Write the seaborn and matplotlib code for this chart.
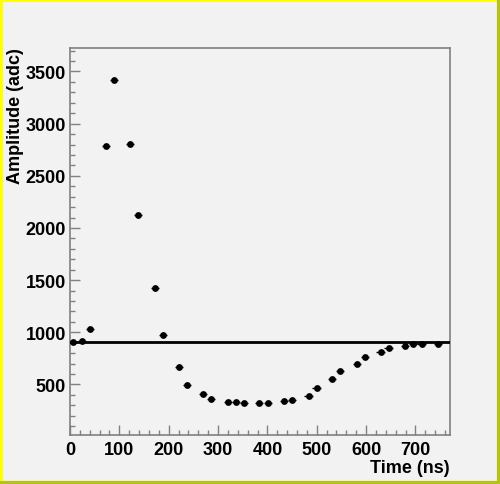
import matplotlib
matplotlib.use("Agg")
import matplotlib.pyplot as plt
import seaborn as sns
import pandas as pd
import numpy as np
from matplotlib.ticker import MultipleLocator
from matplotlib.lines import Line2D

time_ns = [6.7, 23.7, 40.5, 73.5, 89.7, 121.5, 138.4, 171.5, 188.4, 221.0, 237.3,
           269.4, 285.6, 319.4, 335.6, 351.8, 382.8, 400.4, 433.6, 450.4, 483.4,
           499.6, 531.4, 547.6, 581.3, 597.5, 629.2, 645.4, 678.5, 695.4, 712.3, 745.4]
amplitude = [910, 915, 1027, 2787, 3417, 2803, 2125, 1428, 973, 666, 497,
             404, 359, 334, 330, 324, 324, 324, 343, 349, 392,
             468, 548, 628, 699, 766, 814, 848, 865, 887, 887, 887]
time_err = 8.3
baseline = 910

df = pd.DataFrame({"Time (ns)": time_ns, "Amplitude (adc)": amplitude})

sns.set_theme(style="ticks")
plt.rcParams["font.family"] = ["Liberation Sans", "DejaVu Sans"]
plt.rcParams["text.color"] = "black"
plt.rcParams["axes.labelcolor"] = "black"
plt.rcParams["xtick.labelcolor"] = "black"
plt.rcParams["ytick.labelcolor"] = "black"

bg = "#f2f2f2"
fig = plt.figure(figsize=(5.0, 4.85), dpi=100, facecolor=bg)
ax = fig.add_axes([0.14, 0.101, 0.76, 0.799])
ax.set_facecolor(bg)

ax.errorbar(time_ns, amplitude, xerr=time_err, fmt="none", ecolor="black",
            elinewidth=1.0, capsize=0, zorder=2)
sns.scatterplot(data=df, x="Time (ns)", y="Amplitude (adc)", ax=ax, color="black",
                s=24, edgecolor="black", linewidth=0, zorder=3)
ax.axhline(baseline, color="black", linewidth=2.0, zorder=4)

ax.set_xlim(0, 770)
ax.set_ylim(15, 3730)
ax.xaxis.set_major_locator(MultipleLocator(100))
ax.xaxis.set_minor_locator(MultipleLocator(20))
ax.yaxis.set_minor_locator(MultipleLocator(100))
ax.set_yticks([500, 1000, 1500, 2000, 2500, 3000, 3500])

gray = "#808080"
for s in ax.spines.values():
    s.set_color(gray)
    s.set_linewidth(1.2)
ax.tick_params(which="major", direction="in", length=7.2, width=1.0, color=gray,
               labelsize=13, pad=3, top=False, right=False, labelcolor="black")
ax.tick_params(which="minor", direction="in", length=3.6, width=1.0, color=gray,
               top=False, right=False)
ax.tick_params(axis="x", which="major", pad=4)
for lab in ax.get_xticklabels() + ax.get_yticklabels():
    lab.set_fontweight("bold")

ax.set_xlabel("Time (ns)", fontsize=13, fontweight="bold", loc="right", labelpad=1,
              color="black")
ax.set_ylabel("Amplitude (adc)", fontsize=13, fontweight="bold", loc="top", labelpad=2,
              color="black")
ax.yaxis.set_label_coords(-0.121, 1.0)

# canvas bevel border
fig.add_artist(Line2D([0.002, 0.002], [0, 1], transform=fig.transFigure, color="#ffff00", lw=3))
fig.add_artist(Line2D([0, 1], [0.998, 0.998], transform=fig.transFigure, color="#ffff00", lw=3))
fig.add_artist(Line2D([0.998, 0.998], [0, 1], transform=fig.transFigure, color="#b5c21e", lw=3))
fig.add_artist(Line2D([0, 1], [0.002, 0.002], transform=fig.transFigure, color="#b5c21e", lw=3))

fig.savefig("out.png", dpi=100, facecolor=bg)
